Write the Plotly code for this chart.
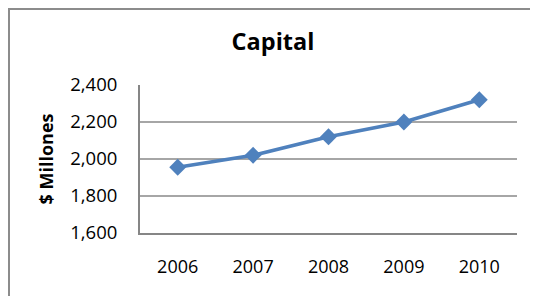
import plotly.graph_objects as go

years = ["2006", "2007", "2008", "2009", "2010"]
capital = [1955, 2020, 2120, 2200, 2320]
y_ticks = [1600, 1800, 2000, 2200, 2400]

# the page places the figure 8px in from the window's top-left corner
OFF = 8
W, H = 538, 296
L, T = 140 - OFF, 85 - OFF
R = W - (517 - OFF)
B = H - (233 - OFF)
pw, ph = W - L - R, H - T - B

fig = go.Figure()
fig.add_trace(go.Scatter(
    x=years, y=capital, mode="lines+markers",
    line=dict(color="#4F81BD", width=3.5),
    marker=dict(symbol="diamond", size=13, color="#4F81BD"),
    showlegend=False, hoverinfo="skip",
))

fig.update_layout(
    width=W, height=H,
    margin=dict(l=L, r=R, t=T, b=B, autoexpand=False),
    paper_bgcolor="white", plot_bgcolor="white",
    font=dict(family="Open Sans", color="black"),
    title=dict(text="<b>Capital</b>", xref="container", yref="container",
               x=(273 - OFF) / W, y=1 - (42 - OFF) / H,
               xanchor="center", yanchor="middle",
               font=dict(size=23.5, family="Open Sans", color="black")),
    xaxis=dict(type="category", range=[-0.5, 4.5], showgrid=False,
               showline=True, linecolor="#868686", linewidth=2,
               ticks="", tickfont=dict(size=18), ticklabelstandoff=16,
               fixedrange=True),
    yaxis=dict(range=[1600, 2400], tickvals=y_ticks, tickformat=",",
               showgrid=True, gridcolor="#A6A6A6", gridwidth=1.5,
               showline=True, linecolor="#868686", linewidth=2,
               zeroline=False, ticks="", tickfont=dict(size=18.5),
               ticklabelstandoff=17,
               title=dict(text="<b>$ Millones</b>", standoff=12,
                          font=dict(size=18, family="Open Sans")),
               fixedrange=True),
)

# outer chart border (Excel chart area); right/bottom edges fall outside view
fig.add_shape(type="rect", xref="paper", yref="paper",
              x0=(1 - L) / pw, x1=(W + 20 - L) / pw,
              y0=-(B + 20) / ph, y1=1 + (T - 1) / ph,
              line=dict(color="#8C8C8C", width=2), fillcolor="rgba(0,0,0,0)",
              layer="below")

fig.write_html("out.html")
